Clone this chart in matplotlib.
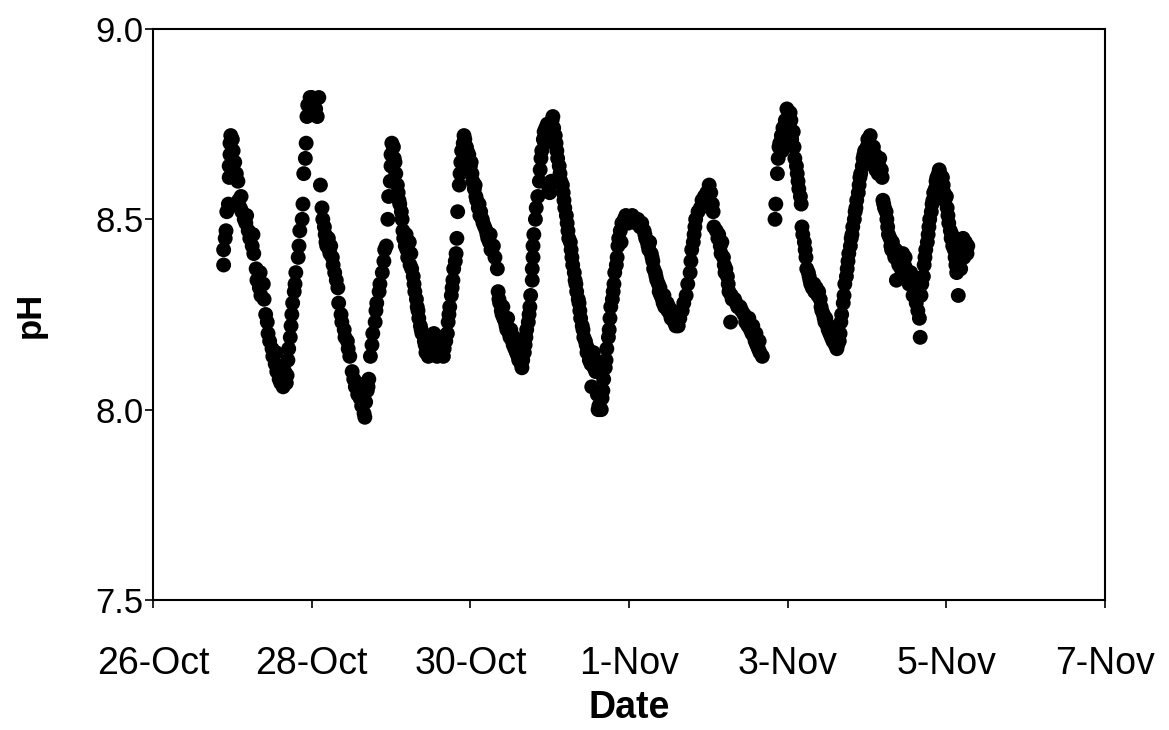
from datetime import datetime, timedelta

import matplotlib
matplotlib.use("Agg")
import matplotlib.pyplot as plt

plt.rcParams['font.family'] = ['Liberation Sans', 'DejaVu Sans']

year = 2008
start = datetime(year, 10, 26)

# logger record, one line per half-cycle:
# days after 26-Oct 00:00 and the pH read at that time
days = [
    0.89, 0.89, 0.91, 0.92, 0.93, 0.95, 0.96, 0.96, 0.97, 0.97, 0.98, 1.00, 1.01, 1.03, 1.05, 1.07, 1.08, 1.10, 1.11, 1.12,
    1.15, 1.17, 1.18, 1.20, 1.22, 1.25, 1.26, 1.27, 1.30, 1.31, 1.34, 1.35, 1.36, 1.39, 1.40, 1.42, 1.44, 1.45, 1.47, 1.50,
    1.51, 1.54, 1.55, 1.56, 1.59, 1.60, 1.61, 1.64, 1.65, 1.66, 1.68,
    1.69, 1.70, 1.71, 1.73, 1.74, 1.75, 1.76, 1.78, 1.79, 1.80, 1.83, 1.84, 1.85, 1.88, 1.89, 1.90, 1.92, 1.93, 1.94, 1.95,
    1.98, 2.00, 2.03, 2.05, 2.07, 2.09,
    2.11, 2.13, 2.14, 2.16, 2.17, 2.18, 2.19, 2.21, 2.22, 2.23, 2.24, 2.26, 2.27, 2.29, 2.31, 2.33, 2.34, 2.37, 2.38, 2.41,
    2.42, 2.45, 2.46, 2.48, 2.51, 2.53, 2.55, 2.57, 2.58, 2.61, 2.62, 2.63, 2.65, 2.66, 2.67, 2.68, 2.70,
    2.71, 2.72, 2.74, 2.76, 2.77, 2.80, 2.81, 2.82, 2.85, 2.86, 2.89, 2.91, 2.92, 2.94, 2.96, 2.97, 2.99, 3.00, 3.00, 3.01,
    3.03, 3.04, 3.05,
    3.06, 3.08, 3.09, 3.10, 3.11, 3.13, 3.14, 3.15, 3.16, 3.18, 3.19, 3.20, 3.21, 3.23, 3.24, 3.25, 3.26, 3.28, 3.29, 3.30,
    3.32, 3.33, 3.34, 3.35, 3.37, 3.38, 3.39, 3.42, 3.43, 3.44, 3.45, 3.47, 3.49, 3.52, 3.54, 3.57, 3.58, 3.61, 3.63, 3.66,
    3.67, 3.69,
    3.71, 3.72, 3.73, 3.74, 3.76, 3.77, 3.78, 3.79, 3.81, 3.82, 3.83, 3.84, 3.86, 3.87, 3.88, 3.89, 3.91, 3.92, 3.93, 3.95,
    3.96, 3.97, 3.98, 4.00, 4.01, 4.02, 4.03, 4.05, 4.06, 4.07, 4.08, 4.10, 4.11, 4.12, 4.13, 4.15, 4.16, 4.18, 4.20, 4.21,
    4.22, 4.24, 4.25, 4.26, 4.29, 4.31, 4.34, 4.35, 4.36, 4.37, 4.39, 4.40, 4.41, 4.42, 4.44, 4.45, 4.46, 4.47, 4.49, 4.50,
    4.51, 4.53, 4.54, 4.55, 4.56, 4.58, 4.59, 4.60, 4.61, 4.63, 4.64, 4.65, 4.66,
    4.68, 4.69, 4.70, 4.71, 4.73, 4.74, 4.75, 4.76, 4.78, 4.78, 4.79, 4.79, 4.80, 4.82, 4.83, 4.85, 4.87, 4.88, 4.89, 4.90,
    4.92, 4.93, 4.94, 4.95, 4.97, 4.98, 4.99, 5.00, 5.02, 5.03, 5.04, 5.05, 5.07, 5.08,
    5.09, 5.10, 5.12, 5.13, 5.14, 5.16, 5.17, 5.18, 5.19, 5.21, 5.22, 5.23, 5.24, 5.26, 5.27, 5.28, 5.29, 5.31, 5.32, 5.33,
    5.34, 5.36, 5.37, 5.38, 5.39, 5.41, 5.42, 5.43, 5.45, 5.46, 5.47, 5.48, 5.50, 5.51, 5.52, 5.53, 5.55, 5.56, 5.57, 5.58,
    5.60, 5.61, 5.62, 5.63, 5.65, 5.66,
    5.67, 5.68, 5.70, 5.71, 5.72, 5.74, 5.75, 5.76, 5.77, 5.79, 5.80, 5.81, 5.82, 5.84, 5.85, 5.86, 5.87, 5.89, 5.90, 5.91,
    5.94, 5.96, 5.99, 6.01, 6.04, 6.06, 6.09, 6.11, 6.14, 6.16, 6.19,
    6.20, 6.21, 6.23, 6.24, 6.25, 6.26, 6.28, 6.29, 6.30, 6.31, 6.33, 6.34, 6.35, 6.37, 6.38, 6.39, 6.40, 6.42, 6.43, 6.44,
    6.45, 6.48, 6.49, 6.50, 6.52, 6.53, 6.54, 6.55, 6.57, 6.58, 6.59, 6.60, 6.62, 6.63,
    6.64, 6.67, 6.69, 6.72, 6.74, 6.77, 6.78, 6.79, 6.81, 6.82, 6.83, 6.84, 6.87, 6.90, 6.92, 6.95, 6.97, 6.98, 7.01, 7.03,
    7.05, 7.06,
    7.07, 7.10, 7.12, 7.13, 7.15, 7.16, 7.17, 7.19, 7.20, 7.21, 7.22, 7.24, 7.25, 7.26, 7.28, 7.29, 7.30, 7.33, 7.35, 7.37,
    7.40, 7.42, 7.45, 7.47, 7.50, 7.51, 7.53, 7.55, 7.56, 7.58, 7.59, 7.60, 7.61, 7.63, 7.64, 7.65, 7.68,
    7.84, 7.85, 7.87, 7.88, 7.89, 7.90, 7.92, 7.93, 7.94, 7.95, 7.97, 7.98, 7.99, 8.01, 8.02, 8.03, 8.04, 8.05, 8.07, 8.08,
    8.09, 8.11, 8.12, 8.13, 8.14, 8.16, 8.17, 8.18, 8.19, 8.21, 8.22, 8.23, 8.24, 8.26, 8.27, 8.28, 8.29, 8.31, 8.33, 8.34,
    8.36, 8.38, 8.39, 8.41, 8.42, 8.43, 8.45, 8.46, 8.47, 8.48, 8.50, 8.51, 8.52, 8.53, 8.55, 8.56, 8.57, 8.58, 8.60, 8.61,
    8.62, 8.63, 8.65,
    8.66, 8.67, 8.68, 8.70, 8.71, 8.72, 8.74, 8.75, 8.76, 8.77, 8.79, 8.80, 8.81, 8.82, 8.84, 8.85, 8.86, 8.87, 8.89, 8.90,
    8.91, 8.92, 8.94, 8.95, 8.96, 8.97, 8.99, 9.00, 9.01, 9.03, 9.04, 9.05, 9.06, 9.08, 9.09, 9.10, 9.11, 9.13, 9.14, 9.15,
    9.16, 9.18, 9.19,
    9.20, 9.21, 9.22, 9.24, 9.25, 9.26, 9.27, 9.29, 9.30, 9.31, 9.32, 9.34, 9.35, 9.36, 9.37, 9.39, 9.40, 9.42, 9.43, 9.44,
    9.45, 9.47, 9.48, 9.49, 9.50, 9.53, 9.55, 9.58, 9.61, 9.62, 9.63, 9.64, 9.66, 9.67,
    9.68, 9.69, 9.71, 9.72, 9.73, 9.74, 9.76, 9.77, 9.78, 9.79, 9.81, 9.82, 9.83, 9.84, 9.86, 9.87, 9.88, 9.90, 9.91, 9.92,
    9.93, 9.95, 9.96, 9.97, 9.98, 10.00, 10.01, 10.02, 10.03, 10.05, 10.06, 10.07, 10.08, 10.10, 10.11, 10.12, 10.13, 10.15,
    10.16, 10.17, 10.18, 10.20, 10.21, 10.22, 10.24, 10.25, 10.26, 10.27,
]
ph = [
    8.38, 8.42, 8.45, 8.47, 8.52, 8.54, 8.61, 8.64, 8.67, 8.70, 8.72, 8.71, 8.68, 8.65, 8.62, 8.60, 8.55, 8.53, 8.56, 8.52,
    8.50, 8.49, 8.51, 8.47, 8.45, 8.43, 8.46, 8.41, 8.37, 8.34, 8.32, 8.36, 8.30, 8.33, 8.29, 8.25, 8.23, 8.20, 8.18, 8.16,
    8.14, 8.12, 8.15, 8.10, 8.08, 8.11, 8.07, 8.06, 8.08, 8.10, 8.07,
    8.09, 8.13, 8.16, 8.19, 8.22, 8.25, 8.28, 8.31, 8.33, 8.36, 8.40, 8.43, 8.47, 8.50, 8.54, 8.62, 8.66, 8.70, 8.77, 8.80,
    8.82, 8.82, 8.81, 8.79, 8.77, 8.82,
    8.59, 8.53, 8.50, 8.48, 8.46, 8.44, 8.43, 8.45, 8.42, 8.41, 8.43, 8.40, 8.38, 8.36, 8.34, 8.32, 8.28, 8.25, 8.23, 8.21,
    8.19, 8.18, 8.16, 8.14, 8.10, 8.08, 8.06, 8.07, 8.04, 8.03, 8.05, 8.01, 8.03, 7.99, 7.98, 8.02, 8.05,
    8.06, 8.08, 8.14, 8.17, 8.20, 8.23, 8.26, 8.28, 8.31, 8.33, 8.36, 8.39, 8.42, 8.43, 8.50, 8.56, 8.60, 8.64, 8.67, 8.70,
    8.69, 8.66, 8.65,
    8.62, 8.59, 8.57, 8.55, 8.54, 8.52, 8.50, 8.47, 8.45, 8.43, 8.46, 8.42, 8.40, 8.44, 8.38, 8.41, 8.37, 8.35, 8.33, 8.31,
    8.29, 8.27, 8.26, 8.24, 8.22, 8.21, 8.20, 8.18, 8.17, 8.15, 8.19, 8.14, 8.17, 8.15, 8.20, 8.18, 8.14, 8.16, 8.19, 8.14,
    8.16, 8.18,
    8.20, 8.23, 8.25, 8.27, 8.30, 8.32, 8.34, 8.37, 8.39, 8.41, 8.45, 8.52, 8.59, 8.62, 8.65, 8.68, 8.70, 8.72, 8.71, 8.69,
    8.68, 8.66, 8.67, 8.64, 8.65, 8.62, 8.60, 8.58, 8.59, 8.56, 8.55, 8.53, 8.54, 8.51, 8.52, 8.50, 8.49, 8.48, 8.47, 8.46,
    8.45, 8.44, 8.46, 8.42, 8.43, 8.40, 8.37, 8.31, 8.29, 8.28, 8.26, 8.25, 8.27, 8.24, 8.23, 8.22, 8.21, 8.24, 8.20, 8.19,
    8.21, 8.18, 8.17, 8.19, 8.16, 8.15, 8.17, 8.14, 8.13, 8.15, 8.12, 8.11, 8.13,
    8.15, 8.17, 8.19, 8.21, 8.23, 8.25, 8.27, 8.30, 8.34, 8.37, 8.40, 8.43, 8.46, 8.50, 8.53, 8.56, 8.60, 8.63, 8.66, 8.68,
    8.71, 8.73, 8.70, 8.74, 8.75, 8.72, 8.58, 8.57, 8.60, 8.76, 8.77, 8.74, 8.72, 8.70,
    8.68, 8.66, 8.64, 8.62, 8.60, 8.59, 8.57, 8.55, 8.53, 8.51, 8.49, 8.47, 8.45, 8.44, 8.42, 8.40, 8.38, 8.36, 8.34, 8.33,
    8.31, 8.29, 8.28, 8.26, 8.24, 8.22, 8.21, 8.19, 8.18, 8.17, 8.15, 8.16, 8.13, 8.14, 8.12, 8.06, 8.15, 8.11, 8.13, 8.10,
    8.04, 8.00, 8.01, 8.00, 8.00, 8.03,
    8.05, 8.08, 8.11, 8.13, 8.16, 8.19, 8.21, 8.24, 8.27, 8.29, 8.31, 8.33, 8.36, 8.38, 8.40, 8.43, 8.45, 8.47, 8.44, 8.49,
    8.50, 8.51, 8.49, 8.50, 8.51, 8.50, 8.49, 8.50, 8.48, 8.49, 8.47,
    8.46, 8.45, 8.44, 8.43, 8.42, 8.44, 8.41, 8.40, 8.39, 8.37, 8.36, 8.35, 8.34, 8.33, 8.31, 8.32, 8.30, 8.29, 8.28, 8.30,
    8.27, 8.28, 8.26, 8.27, 8.25, 8.24, 8.26, 8.24, 8.23, 8.25, 8.22, 8.23, 8.22, 8.24,
    8.24, 8.26, 8.28, 8.30, 8.33, 8.36, 8.39, 8.42, 8.44, 8.46, 8.48, 8.50, 8.52, 8.53, 8.55, 8.56, 8.55, 8.57, 8.59, 8.57,
    8.54, 8.52,
    8.48, 8.47, 8.45, 8.46, 8.43, 8.41, 8.44, 8.40, 8.38, 8.36, 8.37, 8.35, 8.33, 8.31, 8.23, 8.30, 8.29, 8.29, 8.28, 8.27,
    8.27, 8.26, 8.25, 8.23, 8.22, 8.24, 8.21, 8.20, 8.22, 8.19, 8.18, 8.20, 8.17, 8.16, 8.18, 8.15, 8.14,
    8.50, 8.54, 8.62, 8.66, 8.69, 8.70, 8.72, 8.68, 8.74, 8.71, 8.76, 8.73, 8.79, 8.77, 8.75, 8.78, 8.76, 8.71, 8.73, 8.69,
    8.66, 8.64, 8.62, 8.60, 8.58, 8.56, 8.54, 8.48, 8.46, 8.44, 8.42, 8.40, 8.37, 8.36, 8.35, 8.34, 8.33, 8.32, 8.33, 8.31,
    8.32, 8.30, 8.31, 8.29, 8.27, 8.26, 8.25, 8.24, 8.23, 8.24, 8.22, 8.21, 8.22, 8.20, 8.19, 8.20, 8.18, 8.19, 8.17, 8.18,
    8.16, 8.17, 8.18,
    8.20, 8.23, 8.25, 8.28, 8.30, 8.33, 8.35, 8.37, 8.39, 8.41, 8.43, 8.45, 8.46, 8.48, 8.50, 8.52, 8.53, 8.55, 8.57, 8.59,
    8.61, 8.62, 8.64, 8.66, 8.67, 8.68, 8.65, 8.69, 8.71, 8.70, 8.72, 8.68, 8.66, 8.69, 8.64, 8.67, 8.63, 8.65, 8.62, 8.64,
    8.66, 8.63, 8.61,
    8.55, 8.54, 8.53, 8.52, 8.50, 8.48, 8.46, 8.45, 8.43, 8.42, 8.44, 8.41, 8.40, 8.42, 8.34, 8.39, 8.38, 8.40, 8.37, 8.39,
    8.41, 8.38, 8.40, 8.37, 8.35, 8.33, 8.36, 8.30, 8.34, 8.28, 8.32, 8.26, 8.24, 8.19,
    8.30, 8.33, 8.35, 8.38, 8.40, 8.42, 8.44, 8.46, 8.48, 8.50, 8.52, 8.54, 8.55, 8.57, 8.58, 8.60, 8.61, 8.62, 8.63, 8.62,
    8.60, 8.61, 8.59, 8.57, 8.55, 8.56, 8.53, 8.51, 8.49, 8.47, 8.45, 8.46, 8.43, 8.42, 8.40, 8.38, 8.36, 8.30,
    8.39, 8.41, 8.37, 8.43, 8.45, 8.40, 8.44, 8.42, 8.41, 8.43,
]

tick_labels = ["26-Oct", "28-Oct", "30-Oct", "1-Nov", "3-Nov", "5-Nov", "7-Nov"]
ph_ticks = [7.5, 8.0, 8.5, 9.0]

assert len(days) == len(ph), (len(days), len(ph))
times = [start + timedelta(days=d) for d in days]
tick_dates = [datetime.strptime(f"{t}-{year}", "%d-%b-%Y") for t in tick_labels]

fig = plt.figure(figsize=(11.69, 7.30), dpi=100)
ax = fig.add_axes([0.1309, 0.1781, 0.8144, 0.7822])

ax.scatter(times, ph, s=115, color='black', edgecolors='none', zorder=3)

ax.set_xlim(tick_dates[0], tick_dates[-1])
ax.set_ylim(ph_ticks[0], ph_ticks[-1])
ax.set_xticks(tick_dates)
ax.set_xticklabels(tick_labels)
ax.set_yticks(ph_ticks)
ax.set_yticklabels([f"{v:.1f}" for v in ph_ticks])

ax.tick_params(axis='both', direction='out', length=6, width=1.2, colors='black')
ax.tick_params(axis='x', pad=27, labelsize=27)
ax.tick_params(axis='y', pad=1, labelsize=25)
for spine in ax.spines.values():
    spine.set_linewidth(1.5)
    spine.set_color('black')

ax.set_xlabel('Date', fontsize=27, fontweight='bold')
ax.set_ylabel('pH', fontsize=25, fontweight='bold')
ax.xaxis.set_label_coords(0.5, -0.158)
ax.yaxis.set_label_coords(-0.112, 0.5)

fig.savefig('out.png', dpi=100, facecolor='white')
